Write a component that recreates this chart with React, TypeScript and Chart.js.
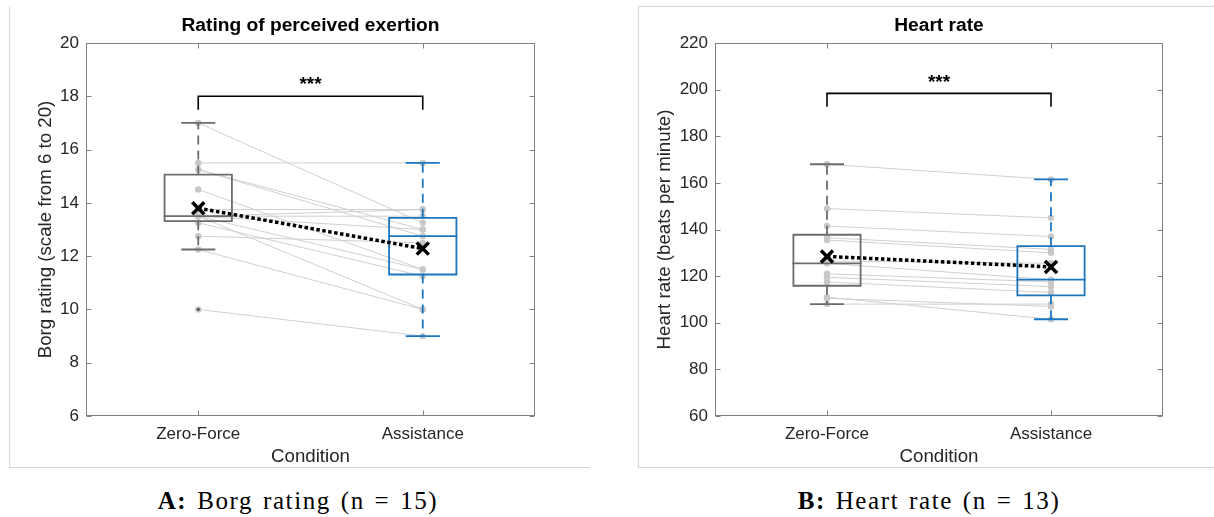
import React, { useEffect, useRef } from 'react';
import { Chart, registerables } from 'chart.js';

Chart.register(...registerables);

// ---------- data ----------
const categories = ['Zero-Force', 'Assistance'];

// Borg rating (n = 15), paired per participant
const borgZeroForce = [17, 15.5, 15.25, 15.25, 14.5, 13.75, 13.5, 13.5, 13.5, 13.5, 13.5, 13.25, 12.75, 12.25, 10];
const borgAssistance = [13.25, 15.5, 13, 12.75, 11.5, 13.75, 13.75, 13.5, 13, 11.5, 10, 11.25, 12.5, 10, 9];

// Heart rate (n = 13), paired per participant
const hrZeroForce = [168, 149, 141.5, 136.5, 135.5, 126.5, 125.5, 121, 119.5, 117.5, 111, 110.5, 108];
const hrAssistance = [161.5, 145, 137, 131.5, 130, 125.5, 118.5, 117.5, 115.5, 113, 101.5, 107, 108];

// axis ranges / ticks [min, max, step]
const borgTicks = [6, 20, 2];
const hrTicks = [60, 220, 20];

// significance brackets [bottom, top] and star label level
const borgBracket = [17.5, 18];
const borgStarY = 18.65;
const hrBracket = [192.7, 198.4];
const hrStarY = 205.3;
const sigLabel = '***';

const titles = ['Rating of perceived exertion', 'Heart rate'];
const yTitles = ['Borg rating (scale from 6 to 20)', 'Heart rate (beats per minute)'];
const xTitle = 'Condition';

// ---------- helpers ----------
const FONT = "'Liberation Sans', Arial, Helvetica, sans-serif";
const GREY_BOX = '#6c6c6c';
const BLUE_BOX = '#1b76c0';

function quantile(sorted: number[], p: number) {
  const n = sorted.length;
  const pos = n * p + 0.5;
  if (pos <= 1) return sorted[0];
  if (pos >= n) return sorted[n - 1];
  const lo = Math.floor(pos);
  const f = pos - lo;
  return sorted[lo - 1] + f * (sorted[lo] - sorted[lo - 1]);
}

function boxStats(vals: number[]) {
  const s = [...vals].sort((a, b) => a - b);
  const q1 = quantile(s, 0.25);
  const med = quantile(s, 0.5);
  const q3 = quantile(s, 0.75);
  const iqr = q3 - q1;
  const loF = q1 - 1.5 * iqr;
  const hiF = q3 + 1.5 * iqr;
  const inside = s.filter((v) => v >= loF && v <= hiF);
  const outliers = s.filter((v) => v < loF || v > hiF);
  const mean = s.reduce((a, b) => a + b, 0) / s.length;
  return { q1, med, q3, lo: inside[0], hi: inside[inside.length - 1], outliers, mean };
}

const framePlugin = {
  id: 'frame',
  afterDraw(chart: any, _args: any, opts: any) {
    const { ctx, chartArea: a, scales } = chart;
    ctx.save();
    ctx.strokeStyle = '#808080';
    ctx.lineWidth = 1;
    const L = Math.round(a.left) + 0.5;
    const R = Math.round(a.right) - 0.5;
    const T = Math.round(a.top) + 0.5;
    const B = Math.round(a.bottom) - 0.5;
    ctx.strokeRect(L, T, R - L, B - T);
    const tl = 5;
    ctx.beginPath();
    scales.y.ticks.forEach((t: any) => {
      const y = Math.round(scales.y.getPixelForValue(t.value)) + 0.5;
      ctx.moveTo(L, y);
      ctx.lineTo(L + tl, y);
      ctx.moveTo(R, y);
      ctx.lineTo(R - tl, y);
    });
    scales.x.ticks.forEach((t: any) => {
      const x = Math.round(scales.x.getPixelForValue(t.value)) + 0.5;
      ctx.moveTo(x, B);
      ctx.lineTo(x, B - tl);
      ctx.moveTo(x, T);
      ctx.lineTo(x, T + tl);
    });
    ctx.stroke();
    // significance stars
    if (opts && opts.text) {
      const x = scales.x.getPixelForValue(1.5);
      const y = scales.y.getPixelForValue(opts.y);
      ctx.fillStyle = '#000';
      ctx.font = `bold 19px ${FONT}`;
      ctx.textAlign = 'center';
      ctx.textBaseline = 'alphabetic';
      ctx.fillText(opts.text, x, y + 11);
    }
    ctx.restore();
  },
};

function buildConfig(
  zf: number[],
  as: number[],
  ticks: number[],
  bracket: number[],
  starY: number,
  title: string,
  yTitle: string,
  yAxisWidth: number,
  padLeft: number,
  padRight: number
) {
  const boxW = 0.15;
  const capW = 0.072;
  const datasets: any[] = [];

  // paired participant lines + dots
  zf.forEach((v, i) => {
    datasets.push({
      type: 'line',
      data: [
        { x: 1, y: v },
        { x: 2, y: as[i] },
      ],
      borderColor: '#d0d0d0',
      borderWidth: 1,
      pointRadius: 3.2,
      pointBackgroundColor: '#c8c8c8',
      pointBorderWidth: 0,
      order: 10,
    });
  });

  const addBox = (vals: number[], x: number, color: string) => {
    const s = boxStats(vals);
    const seg = (pts: any[], extra: any = {}) =>
      datasets.push({
        type: 'line',
        data: pts,
        borderColor: color,
        borderWidth: 1.8,
        pointRadius: 0,
        borderCapStyle: 'square',
        order: 5,
        ...extra,
      });
    seg([
      { x: x - boxW, y: s.q1 },
      { x: x + boxW, y: s.q1 },
      { x: x + boxW, y: s.q3 },
      { x: x - boxW, y: s.q3 },
      { x: x - boxW, y: s.q1 },
    ]);
    seg([
      { x: x - boxW, y: s.med },
      { x: x + boxW, y: s.med },
    ]);
    seg(
      [
        { x, y: s.q3 },
        { x, y: s.hi },
      ],
      { borderDash: [9, 6], borderCapStyle: 'butt' }
    );
    seg(
      [
        { x, y: s.q1 },
        { x, y: s.lo },
      ],
      { borderDash: [9, 6], borderCapStyle: 'butt' }
    );
    seg([
      { x: x - capW, y: s.hi },
      { x: x + capW, y: s.hi },
    ]);
    seg([
      { x: x - capW, y: s.lo },
      { x: x + capW, y: s.lo },
    ]);
    if (s.outliers.length) {
      datasets.push({
        type: 'line',
        data: s.outliers.map((v) => ({ x, y: v })),
        showLine: false,
        pointRadius: 1.6,
        pointBackgroundColor: '#555555',
        pointBorderWidth: 0,
        order: 1,
      });
    }
    return s;
  };

  const sz = addBox(zf, 1, GREY_BOX);
  const sa = addBox(as, 2, BLUE_BOX);

  // means
  datasets.push({
    type: 'line',
    data: [
      { x: 1, y: sz.mean },
      { x: 2, y: sa.mean },
    ],
    borderColor: '#000',
    borderWidth: 3.5,
    borderDash: [3.5, 2.5],
    pointStyle: 'crossRot',
    pointRadius: 8.5,
    pointBorderWidth: 3.5,
    pointBorderColor: '#000',
    order: 0,
  });

  // bracket
  datasets.push({
    type: 'line',
    data: [
      { x: 1, y: bracket[0] },
      { x: 1, y: bracket[1] },
      { x: 2, y: bracket[1] },
      { x: 2, y: bracket[0] },
    ],
    borderColor: '#000',
    borderWidth: 1.6,
    pointRadius: 0,
    order: 2,
  });

  return {
    type: 'line',
    data: { datasets },
    plugins: [framePlugin],
    options: {
      animation: false,
      responsive: false,
      maintainAspectRatio: false,
      events: [],
      layout: { padding: { left: padLeft, right: padRight, top: 0, bottom: 0 } },
      plugins: {
        legend: { display: false },
        tooltip: { enabled: false },
        title: {
          display: true,
          fullSize: false,
          text: title,
          color: '#000',
          font: { family: FONT, size: 19.2, weight: 'bold' },
          padding: { top: 14.5, bottom: 5.5 },
        },
        frame: { text: sigLabel, y: starY },
      },
      scales: {
        x: {
          type: 'linear',
          min: 0.5,
          max: 2.5,
          grid: { display: false, drawTicks: false },
          border: { display: false },
          afterBuildTicks: (s: any) => {
            s.ticks = [{ value: 1 }, { value: 2 }];
          },
          afterFit: (s: any) => {
            s.height = 52;
          },
          ticks: {
            autoSkip: false,
            maxRotation: 0,
            padding: 7.8,
            color: '#262626',
            font: { family: FONT, size: 17 },
            callback: (v: number) => categories[Math.round(v) - 1] ?? '',
          },
          title: {
            display: true,
            text: xTitle,
            color: '#262626',
            font: { family: FONT, size: 18.7 },
            padding: { top: 0, bottom: 0 },
          },
        },
        y: {
          type: 'linear',
          min: ticks[0],
          max: ticks[1],
          grid: { display: false, drawTicks: false },
          border: { display: false },
          afterFit: (s: any) => {
            s.width = yAxisWidth;
          },
          ticks: {
            stepSize: ticks[2],
            padding: 7,
            color: '#262626',
            font: { family: FONT, size: 17 },
          },
          title: {
            display: true,
            text: yTitle,
            color: '#262626',
            font: { family: FONT, size: 18.7 },
            padding: { top: 4, bottom: 4 },
          },
        },
      },
    },
  };
}

function Panel(props: { cfg: any; left: number; width: number; height: number }) {
  const ref = useRef<HTMLCanvasElement>(null);
  useEffect(() => {
    if (!ref.current) return;
    const chart = new Chart(ref.current, props.cfg);
    return () => chart.destroy();
  }, []);
  return (
    <canvas
      ref={ref}
      width={props.width}
      height={props.height}
      style={{ position: 'absolute', left: props.left, top: 0, width: props.width, height: props.height }}
    />
  );
}

const captionStyle: React.CSSProperties = {
  position: 'absolute',
  top: 485.6,
  height: 30,
  lineHeight: '30px',
  fontFamily: "'Liberation Serif', 'Times New Roman', serif",
  fontSize: 25,
  letterSpacing: 1.6,
  wordSpacing: 2,
  color: '#000',
  whiteSpace: 'nowrap',
  transform: 'translateX(-50%)',
};

export default function App() {
  const leftCfg = buildConfig(
    borgZeroForce,
    borgAssistance,
    borgTicks,
    borgBracket,
    borgStarY,
    titles[0],
    yTitles[0],
    55,
    21,
    55
  );
  const rightCfg = buildConfig(
    hrZeroForce,
    hrAssistance,
    hrTicks,
    hrBracket,
    hrStarY,
    titles[1],
    yTitles[1],
    65,
    11,
    51
  );
  return (
    <div style={{ position: 'absolute', left: 0, top: 0, width: 1214, height: 517, background: '#fff', overflow: 'hidden' }}>
      {/* panel frames */}
      <div style={{ position: 'absolute', left: 9, top: 7, width: 1, height: 461, background: '#d6d6d6' }} />
      <div style={{ position: 'absolute', left: 9, top: 467, width: 581, height: 1, background: '#d6d6d6' }} />
      <div style={{ position: 'absolute', left: 638, top: 6, width: 576, height: 1, background: '#d6d6d6' }} />
      <div style={{ position: 'absolute', left: 638, top: 6, width: 1, height: 462, background: '#d6d6d6' }} />
      <div style={{ position: 'absolute', left: 638, top: 467, width: 576, height: 1, background: '#d6d6d6' }} />
      <Panel cfg={leftCfg} left={10} width={580} height={468} />
      <Panel cfg={rightCfg} left={639} width={575} height={468} />
      <div style={{ ...captionStyle, left: 298 }}>
        <b>A:</b> Borg rating (n = 15)
      </div>
      <div style={{ ...captionStyle, left: 929 }}>
        <b>B:</b> Heart rate (n = 13)
      </div>
    </div>
  );
}
